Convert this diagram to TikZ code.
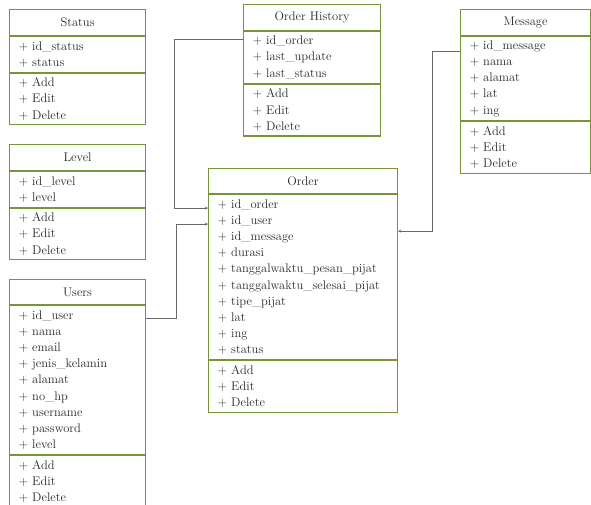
\documentclass[tikz,border=0pt]{standalone}
\usepackage{xcolor}
\usepackage{tikz}
\usetikzlibrary{positioning,arrows.meta}
\definecolor{borde}{RGB}{119,147,60}
\definecolor{tinta}{RGB}{40,40,40}
\definecolor{enlace}{RGB}{105,105,105}

\begin{document}
\begin{tikzpicture}[x=1pt, y=-1pt,
  head/.style={draw=borde, line width=1.1pt, rectangle, align=center, text=tinta,
    font=\rmfamily\fontsize{12.5}{16.2}\selectfont, minimum height=26pt, inner sep=0pt},
  attrs/.style={draw=borde, line width=1.1pt, rectangle, align=left, text=tinta,
    font=\rmfamily\fontsize{12.5}{16.2}\selectfont, inner xsep=9pt, inner ysep=0pt,
    minimum height={#1*16.2pt+3pt}},
  link/.style={draw=enlace, line width=0.9pt, -{Stealth[length=3pt,width=3pt]}}
]
\useasboundingbox (0,0) rectangle (591,504);

% Status
\node[head, minimum width=136pt, anchor=north west] (statusT) at (9,9) {Status};
\node[attrs=2, text width=118pt, below=0pt of statusT] (statusA) {+ id\_status\\+ status};
\node[attrs=3, text width=118pt, below=0pt of statusA] (statusM) {+ Add\\+ Edit\\+ Delete};

% Level
\node[head, minimum width=136pt, anchor=north west] (levelT) at (9,144) {Level};
\node[attrs=2, text width=118pt, below=0pt of levelT] (levelA) {+ id\_level\\+ level};
\node[attrs=3, text width=118pt, below=0pt of levelA] (levelM) {+ Add\\+ Edit\\+ Delete};

% Users
\node[head, minimum width=136pt, minimum height=25pt, anchor=north west] (usersT) at (9,279) {Users};
\node[attrs=9, text width=118pt, below=0pt of usersT] (usersA) {+ id\_user\\+ nama\\+ email\\+ jenis\_kelamin\\+ alamat\\+ no\_hp\\+ username\\+ password\\+ level};
\node[attrs=3, text width=118pt, below=0pt of usersA] (usersM) {+ Add\\+ Edit\\+ Delete};

% Order History
\node[head, minimum width=137pt, anchor=north west] (histT) at (243,4) {Order History};
\node[attrs=3, text width=119pt, below=0pt of histT] (histA) {+ id\_order\\+ last\_update\\+ last\_status};
\node[attrs=3, text width=119pt, below=0pt of histA] (histM) {+ Add\\+ Edit\\+ Delete};

% Order
\node[head, minimum width=189pt, minimum height=25pt, anchor=north west] (orderT) at (208,168) {Order};
\node[attrs=10, text width=171pt, below=0pt of orderT] (orderA) {+ id\_order\\+ id\_user\\+ id\_message\\+ durasi\\+ tanggalwaktu\_pesan\_pijat\\+ tanggalwaktu\_selesai\_pijat\\+ tipe\_pijat\\+ lat\\+ ing\\+ status};
\node[attrs=3, text width=171pt, below=0pt of orderA] (orderM) {+ Add\\+ Edit\\+ Delete};

% Message
\node[head, minimum width=130pt, anchor=north west] (msgT) at (460,9) {Message};
\node[attrs=5, text width=112pt, below=0pt of msgT] (msgA) {+ id\_message\\+ nama\\+ alamat\\+ lat\\+ ing};
\node[attrs=3, text width=112pt, below=0pt of msgA] (msgM) {+ Add\\+ Edit\\+ Delete};

% relaciones
\draw[link] (histA.north west) ++(0,8) -- ++(-69,0) |- ([yshift=-14pt]orderA.north west);
\draw[link] (usersA.north east) ++(0,13) -- ++(30,0) |- ([yshift=-30pt]orderA.north west);
\draw[link] (msgA.north west) ++(0,15) -- ++(-28,0) |- ([yshift=-37pt]orderA.north east);
\end{tikzpicture}
\end{document}
